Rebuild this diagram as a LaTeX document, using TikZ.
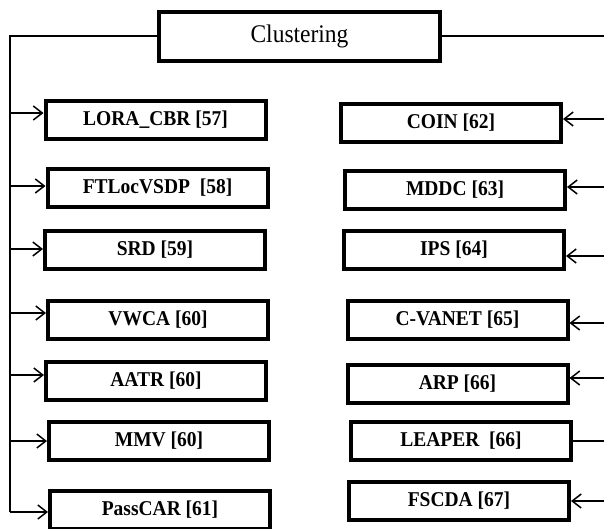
\documentclass[tikz,border=0pt]{standalone}
\usepackage{fontspec}
\setmainfont{Liberation Serif}
\usetikzlibrary{arrows.meta}
\begin{document}
\begin{tikzpicture}[x=1pt,y=-1pt,
  method/.style={draw=black,line width=4pt,fill=white,minimum width=220pt,
    minimum height=38pt,inner sep=0pt,font=\fontsize{19.5}{21}\selectfont\bfseries},
  rootbox/.style={draw=black,line width=4pt,fill=white,minimum width=281pt,
    minimum height=49pt,inner sep=0pt,font=\fontsize{23.5}{25}\selectfont},
  link/.style={line width=1.5pt},
  feed/.style={link,-{Straight Barb[length=9pt,width=14pt]}}]
\useasboundingbox (0,0) rectangle (604,528);

% root of the classification
\node[rootbox] (root) at (299.5,36.5) {\scalebox{1}[1.08]{Clustering}};

% left column of methods
\node[method] (lora) at (155.5,119.5) {\scalebox{1}[1.08]{LORA\_CBR [57]}};
\node[method] (ftloc) at (157.5,188) {\scalebox{1}[1.08]{FTLocVSDP~ [58]}};
\node[method] (srd) at (155,250) {\scalebox{1}[1.08]{SRD [59]}};
\node[method] (vwca) at (158,320) {\scalebox{1}[1.08]{VWCA [60]}};
\node[method] (aatr) at (156,381) {\scalebox{1}[1.08]{AATR [60]}};
\node[method] (mmv) at (159,440.5) {\scalebox{1}[1.08]{MMV [60]}};
\node[method] (pass) at (160,509.5) {\scalebox{1}[1.08]{PassCAR [61]}};

% right column of methods
\node[method] (coin) at (451,123) {\scalebox{1}[1.08]{COIN [62]}};
\node[method] (mddc) at (455,189.5) {\scalebox{1}[1.08]{MDDC [63]}};
\node[method] (ips) at (454,249.5) {\scalebox{1}[1.08]{IPS [64]}};
\node[method] (cvanet) at (457.5,320) {\scalebox{1}[1.08]{C-VANET [65]}};
\node[method] (arp) at (457.5,383.5) {\scalebox{1}[1.08]{ARP [66]}};
\node[method] (leaper) at (461,440.5) {\scalebox{1}[1.08]{LEAPER~ [66]}};
\node[method] (fscda) at (459,500.5) {\scalebox{1}[1.08]{FSCDA [67]}};

% left trunk and its branch points
\coordinate (ltop) at (10,36);
\coordinate (l1) at (10,113);
\coordinate (l2) at (10,186);
\coordinate (l3) at (10,249);
\coordinate (l4) at (10,313);
\coordinate (l5) at (10,375);
\coordinate (l6) at (10,441);
\coordinate (l7) at (10,512);
\draw[link] (root.west |- ltop) -- (ltop) -- (l7);
\draw[feed] (l1) -- (l1 -| lora.west);
\draw[feed] (l2) -- (l2 -| ftloc.west);
\draw[feed] (l3) -- (l3 -| srd.west);
\draw[feed] (l4) -- (l4 -| vwca.west);
\draw[feed] (l5) -- (l5 -| aatr.west);
\draw[feed] (l6) -- (l6 -| mmv.west);
\draw[feed] (l7) -- (l7 -| pass.west);

% right side feeders, entering from the edge
\coordinate (rtop) at (605,36);
\coordinate (r1) at (605,119);
\coordinate (r2) at (605,187);
\coordinate (r3) at (605,256);
\coordinate (r4) at (605,323);
\coordinate (r5) at (605,378);
\coordinate (r6) at (605,441);
\coordinate (r7) at (605,501);
\draw[link] (root.east |- rtop) -- (rtop);
\draw[feed] (r1) -- (r1 -| coin.east);
\draw[feed] (r2) -- (r2 -| mddc.east);
\draw[feed] (r3) -- (r3 -| ips.east);
\draw[feed] (r4) -- (r4 -| cvanet.east);
\draw[feed] (r5) -- (r5 -| arp.east);
\draw[link] (r6) -- (r6 -| leaper.east);
\draw[feed] (r7) -- (r7 -| fscda.east);
\end{tikzpicture}
\end{document}
